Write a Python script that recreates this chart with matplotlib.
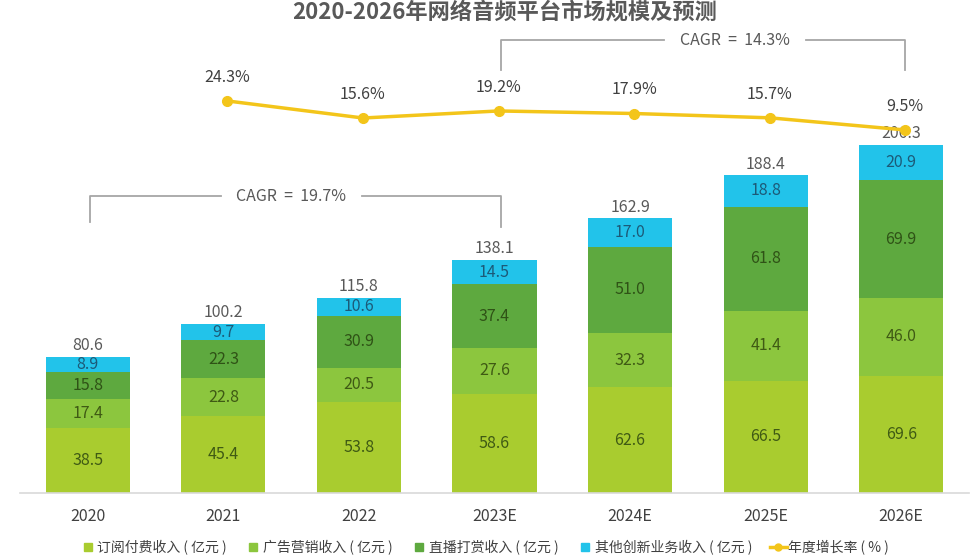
import matplotlib
matplotlib.use("Agg")
import matplotlib.pyplot as plt
from matplotlib.lines import Line2D
import numpy as np

plt.rcParams['font.family'] = ['Noto Sans CJK SC', 'DejaVu Sans']

years = ["2020", "2021", "2022", "2023E", "2024E", "2025E", "2026E"]
subscription = [38.5, 45.4, 53.8, 58.6, 62.6, 66.5, 69.6]
advertising = [17.4, 22.8, 20.5, 27.6, 32.3, 41.4, 46.0]
live_tips = [15.8, 22.3, 30.9, 37.4, 51.0, 61.8, 69.9]
other = [8.9, 9.7, 10.6, 14.5, 17.0, 18.8, 20.9]
totals = [80.6, 100.2, 115.8, 138.1, 162.9, 188.4, 206.3]
growth_years = ["2021", "2022", "2023E", "2024E", "2025E", "2026E"]
growth = [24.3, 15.6, 19.2, 17.9, 15.7, 9.5]

series_names = ["订阅付费收入 ( 亿元 )", "广告营销收入 ( 亿元 )", "直播打赏收入 ( 亿元 )", "其他创新业务收入 ( 亿元 )"]
line_name = "年度增长率 ( % )"
colors = ["#a9cc2f", "#8cc63e", "#5ea93f", "#22c3ea"]
label_colors = ["#3f5a14", "#3f5a14", "#2f5216", "#1c5a78"]
line_color = "#f3c51a"

fig = plt.figure(figsize=(9.74, 5.59), dpi=100)
W, H = 974, 559
ax = fig.add_axes([20 / W, 66 / H, 949 / W, 463 / H])
x = np.arange(len(years))
width = 0.62
bottom = np.zeros(len(years))
for vals, c, lc in zip([subscription, advertising, live_tips, other], colors, label_colors):
    vals = np.array(vals)
    ax.bar(x, vals, width, bottom=bottom, color=c, edgecolor='none')
    for xi, b, v in zip(x, bottom, vals):
        ax.text(xi, b + v / 2, f"{v:.1f}", ha='center', va='center', fontsize=11.5, color=lc)
    bottom += vals
for xi, t in zip(x, totals):
    ax.text(xi, t + 1.5, f"{t:.1f}", ha='center', va='bottom', fontsize=11.5, color='#595959')

ax.set_xlim(-0.5, len(years) - 0.5)
ax.set_ylim(0, 463 / 1.687)
ax.set_xticks(x)
ax.set_xticklabels(years, fontsize=11.5, color='#404040')
ax.tick_params(axis='x', length=0, pad=11)
ax.set_yticks([])
for s in ['top', 'right', 'left']:
    ax.spines[s].set_visible(False)
ax.spines['bottom'].set_color('#d9d9d9')
ax.spines['bottom'].set_linewidth(1.2)

# CAGR brackets
bc = '#a6a6a6'
ax.plot([0.02, 0.02, 0.98], [160.6, 176, 176], color=bc, lw=1.3, clip_on=False)
ax.plot([2.02, 3.05, 3.05], [176, 176, 157.7], color=bc, lw=1.3, clip_on=False)
ax.text(1.5, 176, "CAGR  =  19.7%", ha='center', va='center', fontsize=11.5, color='#595959')
ax.plot([3.05, 3.05, 4.25], [250.7, 268.5, 268.5], color=bc, lw=1.3, clip_on=False)
ax.plot([5.3, 6.03, 6.03], [268.5, 268.5, 250.7], color=bc, lw=1.3, clip_on=False)
ax.text(4.77, 268.5, "CAGR  =  14.3%", ha='center', va='center', fontsize=11.5, color='#595959')

# growth line
ax2 = ax.twinx()
gx = [years.index(g) + 0.03 for g in growth_years]
ax2.plot(gx, growth, color=line_color, lw=2.5, marker='o', markersize=7, zorder=5)
for xi, g in zip(gx, growth):
    ax2.annotate(f"{g:.1f}%", (xi, g), xytext=(0, 11), textcoords='offset points',
                 ha='center', va='bottom', fontsize=11.5, color='#404040')
ax2.set_ylim(-175.7, 60.5)
ax2.set_yticks([])
for s in ax2.spines.values():
    s.set_visible(False)

fig.text(0.518, 0.978, "2020-2026年网络音频平台市场规模及预测", ha='center', va='center',
         fontsize=16, fontweight='bold', color='#595959')

handles = [Line2D([], [], marker='s', linestyle='none', markersize=6, color=c) for c in colors]
handles.append(Line2D([], [], color=line_color, lw=2.5, marker='o', markersize=5))
leg = fig.legend(handles, series_names + [line_name], loc='center', bbox_to_anchor=(0.497, 0.02),
                 ncol=5, frameon=False, fontsize=10, handlelength=1.2, handletextpad=0.1,
                 columnspacing=1.3, labelcolor='#404040')

fig.savefig("out.png", dpi=100)
